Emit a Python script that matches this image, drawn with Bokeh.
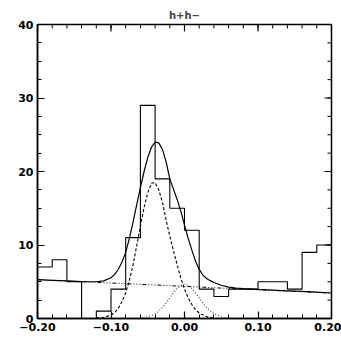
import numpy as np
from bokeh.plotting import figure
from bokeh.models import LinearAxis, FixedTicker, CustomJSTickFormatter, Range1d
from bokeh.embed import file_html
from bokeh.resources import INLINE

# ---- data ----
bin_start = -0.20
bin_width = 0.02
counts = [7, 8, 5, 0, 1, 4, 11, 29, 19, 15, 12, 4, 3, 4, 4, 5, 5, 4, 9, 10]

fit_x = [-0.20, -0.18, -0.16, -0.14, -0.13, -0.12, -0.11, -0.10, -0.095, -0.09, -0.085,
         -0.08, -0.075, -0.07, -0.065, -0.06, -0.055, -0.05, -0.045, -0.04, -0.035,
         -0.03, -0.025, -0.02, -0.015, -0.01, -0.005, 0.0, 0.005, 0.01, 0.015, 0.02,
         0.025, 0.03, 0.035, 0.04, 0.05, 0.06, 0.07, 0.08, 0.10, 0.12, 0.14, 0.16,
         0.18, 0.20]
fit_y = [5.29, 5.20, 5.11, 5.03, 5.00, 5.00, 5.12, 5.55, 6.0, 6.7, 7.7,
         9.0, 10.9, 13.1, 15.5, 17.8, 20.0, 21.9, 23.3, 24.0, 23.9,
         23.0, 21.3, 19.0, 17.6, 16.2, 14.6, 12.7, 10.9, 9.3, 7.8, 6.7,
         5.9, 5.45, 5.15, 4.9, 4.52, 4.28, 4.15, 4.07, 3.96, 3.86, 3.77, 3.68,
         3.58, 3.47]

bg_x = [-0.20, 0.20]
bg_y = [5.29, 3.45]

g1_x = [-0.12, -0.11, -0.10, -0.095, -0.09, -0.085, -0.08, -0.075, -0.07, -0.065,
        -0.06, -0.055, -0.05, -0.045, -0.04, -0.035, -0.03, -0.025, -0.02, -0.015,
        -0.01, -0.005, 0.0, 0.005, 0.01, 0.015, 0.02, 0.03, 0.04]
g1_y = [0.05, 0.15, 0.45, 0.8, 1.4, 2.3, 3.5, 5.2, 7.3, 9.9,
        12.6, 15.1, 17.1, 18.4, 18.5, 17.5, 15.8, 13.4, 11.2, 9.2,
        7.3, 5.5, 4.0, 2.8, 1.9, 1.2, 0.75, 0.25, 0.07]

g2_x = [-0.06, -0.05, -0.04, -0.035, -0.03, -0.025, -0.02, -0.015, -0.01, -0.005,
        0.0, 0.005, 0.01, 0.015, 0.02, 0.025, 0.03, 0.035, 0.04, 0.05, 0.06]
g2_y = [0.05, 0.2, 0.6, 1.0, 1.5, 2.1, 2.8, 3.5, 4.1, 4.5,
        4.7, 4.5, 4.1, 3.5, 2.8, 2.1, 1.5, 1.05, 0.65, 0.22, 0.06]

x_ticks = [-0.2, -0.1, 0.0, 0.1, 0.2]
y_ticks = [0, 10, 20, 30, 40]
x_minor = [round(-0.2 + 0.02 * i, 2) for i in range(21)]
y_minor = [2.5 * i for i in range(17)]

X0, X1, Y0, Y1 = -0.2, 0.2, 0, 40
FONT = "DejaVu Sans"

# ---- figure ----
p = figure(frame_width=294, frame_height=294, output_backend="svg", toolbar_location=None,
           x_range=Range1d(X0, X1), y_range=Range1d(Y0, Y1),
           title="h+h\u2212", x_axis_location=None, y_axis_location=None,
           min_border_left=37, min_border_right=10, min_border_top=24,
           min_border_bottom=20)
p.xgrid.visible = False
p.ygrid.visible = False
p.outline_line_color = "black"
p.outline_line_width = 1.5
p.background_fill_color = "white"
p.border_fill_color = "white"

p.title.align = "center"
p.title.text_font = FONT
p.title.text_font_style = "bold"
p.title.text_font_size = "10px"
p.title.offset = 0
p.title.standoff = 8

edges = bin_start + bin_width * np.arange(len(counts) + 1)
step_y = counts + [counts[-1]]
p.step(edges, step_y, mode="after", line_color="black", line_width=1.1)

p.line(fit_x, fit_y, line_color="black", line_width=1.2)
p.line(g1_x, g1_y, line_color="black", line_width=1.1, line_dash="3 2")
p.line(g2_x, g2_y, line_color="#333333", line_width=1.1, line_dash="1 2")
p.line(bg_x, bg_y, line_color="black", line_width=1.0, line_dash="4 2 1 2 1 2 1 2")

fmt = CustomJSTickFormatter(code="""
var s = Math.abs(tick).toFixed(2);
return (tick < -1e-9 ? '\u2212' : '') + s;
""")

def style(ax):
    ax.axis_line_color = "black"
    ax.axis_line_width = 1.5
    ax.major_tick_in = 7
    ax.major_tick_out = 0
    ax.minor_tick_in = 4
    ax.minor_tick_out = 0
    ax.major_tick_line_color = "black"
    ax.minor_tick_line_color = "black"
    ax.major_tick_line_width = 1.2
    ax.minor_tick_line_width = 1.0
    ax.major_label_text_font = FONT
    ax.major_label_text_font_style = "bold"
    ax.major_label_text_color = "black"
    ax.major_label_text_font_size = "11px"
    ax.major_label_standoff = 4

xb = LinearAxis(ticker=FixedTicker(ticks=x_ticks, minor_ticks=x_minor), formatter=fmt)
style(xb)
xb.major_label_text_align = "right"
p.add_layout(xb, "below")
yl = LinearAxis(ticker=FixedTicker(ticks=y_ticks, minor_ticks=y_minor))
style(yl)
p.add_layout(yl, "left")

# inward ticks on the top and right edges of the box
p.ray(x=x_ticks, y=[Y1] * len(x_ticks), length=7, length_units="screen",
      angle=-np.pi / 2, line_color="black", line_width=1.2)
p.ray(x=x_minor, y=[Y1] * len(x_minor), length=4, length_units="screen",
      angle=-np.pi / 2, line_color="black", line_width=1.0)
p.ray(x=[X1] * len(y_ticks), y=y_ticks, length=7, length_units="screen",
      angle=np.pi, line_color="black", line_width=1.2)
p.ray(x=[X1] * len(y_minor), y=y_minor, length=4, length_units="screen",
      angle=np.pi, line_color="black", line_width=1.0)

open("out.html", "w").write(file_html(p, INLINE))
